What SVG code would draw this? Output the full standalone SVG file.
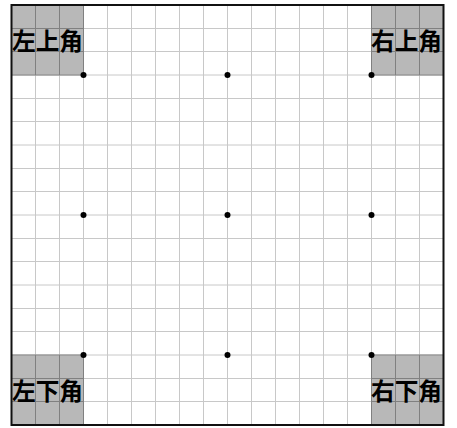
<svg xmlns="http://www.w3.org/2000/svg" width="457" height="428" viewBox="0 0 457 428">
<style>
.bg{fill:#ffffff}
.shade{fill:#b8b8b8}
.grid{fill:none;stroke:#c8c8c8;stroke-width:1}
.gridd{fill:none;stroke:#808080;stroke-width:1}
.border{fill:none;stroke:#111;stroke-width:2}
.star{fill:#000}
.lbl{font-family:"Noto Sans CJK SC","Noto Sans CJK JP",sans-serif;font-size:24px;font-weight:bold;fill:#000}
</style>
<rect class="bg" x="0" y="0" width="457" height="428"/>
<g id="shading">
<rect class="shade" x="11.5" y="5" width="72" height="70"/>
<rect class="shade" x="371.5" y="5" width="72" height="70"/>
<rect class="shade" x="11.5" y="355" width="72" height="70"/>
<rect class="shade" x="371.5" y="355" width="72" height="70"/>
</g>
<g id="grid">
<path class="grid" d="M35.5 5V425M59.5 5V425M83.5 5V425M107.5 5V425M131.5 5V425M155.5 5V425M179.5 5V425M203.5 5V425M227.5 5V425M251.5 5V425M275.5 5V425M299.5 5V425M323.5 5V425M347.5 5V425M371.5 5V425M395.5 5V425M419.5 5V425"/>
<path class="grid" d="M11.5 28.5H443.5M11.5 51.5H443.5M11.5 75H443.5M11.5 98.5H443.5M11.5 121.5H443.5M11.5 145H443.5M11.5 168.5H443.5M11.5 191.5H443.5M11.5 215H443.5M11.5 238.5H443.5M11.5 261.5H443.5M11.5 285H443.5M11.5 308.5H443.5M11.5 331.5H443.5M11.5 355H443.5M11.5 378.5H443.5M11.5 401.5H443.5"/>
<path class="gridd" d="M35.5 5V75M59.5 5V75M83.5 5V75M11.5 28.5H83.5M11.5 51.5H83.5M11.5 75H83.5M395.5 5V75M419.5 5V75M371.5 5V75M371.5 28.5H443.5M371.5 51.5H443.5M371.5 75H443.5M35.5 355V425M59.5 355V425M83.5 355V425M11.5 355H83.5M11.5 378.5H83.5M11.5 401.5H83.5M395.5 355V425M419.5 355V425M371.5 355V425M371.5 355H443.5M371.5 378.5H443.5M371.5 401.5H443.5"/>
<rect class="border" x="11.5" y="5" width="432" height="420"/>
</g>
<g id="stars">
<circle class="star" cx="83.5" cy="75" r="3"/>
<circle class="star" cx="227.5" cy="75" r="3"/>
<circle class="star" cx="371.5" cy="75" r="3"/>
<circle class="star" cx="83.5" cy="215" r="3"/>
<circle class="star" cx="227.5" cy="215" r="3"/>
<circle class="star" cx="371.5" cy="215" r="3"/>
<circle class="star" cx="83.5" cy="355" r="3"/>
<circle class="star" cx="227.5" cy="355" r="3"/>
<circle class="star" cx="371.5" cy="355" r="3"/>
</g>
<g id="labels">
<text class="lbl" x="12" y="50" textLength="71" lengthAdjust="spacingAndGlyphs">左上角</text>
<text class="lbl" x="371" y="50" textLength="71" lengthAdjust="spacingAndGlyphs">右上角</text>
<text class="lbl" x="12" y="400" textLength="71" lengthAdjust="spacingAndGlyphs">左下角</text>
<text class="lbl" x="371" y="400" textLength="71" lengthAdjust="spacingAndGlyphs">右下角</text>
</g>
</svg>
